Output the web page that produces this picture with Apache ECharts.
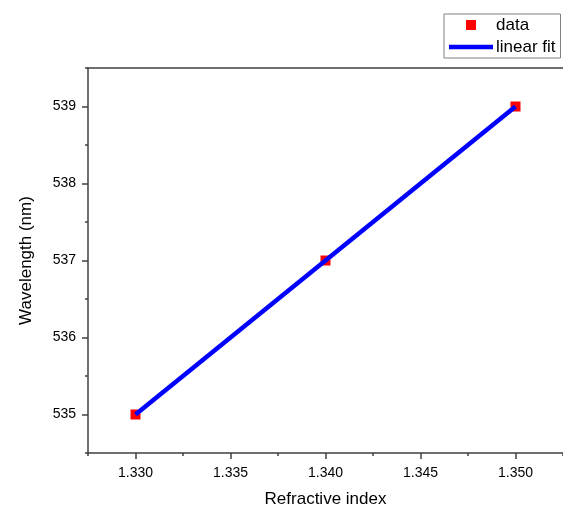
<!DOCTYPE html>
<html>
<head>
<meta charset="utf-8">
<script src="https://cdn.jsdelivr.net/npm/echarts@6/dist/echarts.min.js"></script>
<style>html,body{margin:0;padding:0;background:#fff}#c{width:563px;height:507px}</style>
</head>
<body>
<div id="c"></div>
<script>
// Data
var refIndex = [1.330, 1.340, 1.350];
var wavelength = [535, 537, 539];
var fitX = [1.330, 1.350];
var fitY = [535, 539];
// Ticks
var xMajorTicks = [1.330, 1.335, 1.340, 1.345, 1.350];
var xMinorTicks = [1.3275, 1.3325, 1.3375, 1.3425, 1.3475, 1.3525];
var yMajorTicks = [535, 536, 537, 538, 539];
var yMinorTicks = [534.5, 535.5, 536.5, 537.5, 538.5, 539.5];

var FONT = 'Liberation Sans, Arial, sans-serif';
var AX = '#404040';

var chart = echarts.init(document.getElementById('c'), null, {renderer: 'canvas'});
var xMin = 1.3275, xMax = 1.3525, yMin = 534.5, yMax = 539.5;

function pairs(xs, ys) { return xs.map(function (x, i) { return [x, ys[i]]; }); }

chart.setOption({
  animation: false,
  backgroundColor: '#fff',
  grid: {left: 88, top: 68, right: 0, bottom: 54, containLabel: false, outerBoundsMode: 'none'},
  legend: {
    orient: 'vertical',
    left: 444, top: 14,
    padding: [1, 5, 1, 5],
    itemWidth: 44, itemHeight: 10, itemGap: 2,
    borderColor: '#808080', borderWidth: 1,
    textStyle: {fontFamily: FONT, fontSize: 17, lineHeight: 20, color: '#000', padding: [0, 0, 0, -2]},
    data: [
      {name: 'data', icon: 'path://M0,0h10v10h-10z'},
      {name: 'linear fit', icon: 'path://M0,0h44v4.5h-44z'}
    ]
  },
  xAxis: [
    {
      type: 'value', min: xMin, max: xMax, position: 'bottom',
      name: 'Refractive index', nameLocation: 'middle', nameGap: 38,
      nameTextStyle: {fontFamily: FONT, fontSize: 17, color: '#000'},
      axisLine: {show: true, onZero: false, lineStyle: {color: AX, width: 1.5}},
      axisTick: {show: true, customValues: xMajorTicks, length: 6, lineStyle: {color: AX, width: 1.5}},
      axisLabel: {customValues: xMajorTicks, margin: 13, fontFamily: FONT, fontSize: 14, color: '#000',
        formatter: function (v) { return v.toFixed(3); }},
      splitLine: {show: false}
    },
    {
      type: 'value', min: xMin, max: xMax, position: 'bottom',
      axisLine: {show: false, onZero: false},
      axisTick: {show: true, customValues: xMinorTicks, length: 3, lineStyle: {color: AX, width: 1.5}},
      axisLabel: {show: false},
      splitLine: {show: false}
    },
    {
      type: 'value', min: xMin, max: xMax, position: 'top',
      axisLine: {show: true, onZero: false, lineStyle: {color: AX, width: 1.5}},
      axisTick: {show: false}, axisLabel: {show: false}, splitLine: {show: false}
    }
  ],
  yAxis: [
    {
      type: 'value', min: yMin, max: yMax, position: 'left',
      name: 'Wavelength (nm)', nameLocation: 'middle', nameGap: 53,
      nameTextStyle: {fontFamily: FONT, fontSize: 17, color: '#000'},
      axisLine: {show: true, onZero: false, lineStyle: {color: AX, width: 1.5}},
      axisTick: {show: true, customValues: yMajorTicks, length: 6, lineStyle: {color: AX, width: 1.5}},
      axisLabel: {customValues: yMajorTicks, margin: 12, fontFamily: FONT, fontSize: 14, color: '#000'},
      splitLine: {show: false}
    },
    {
      type: 'value', min: yMin, max: yMax, position: 'left',
      axisLine: {show: false, onZero: false},
      axisTick: {show: true, customValues: yMinorTicks, length: 3, lineStyle: {color: AX, width: 1.5}},
      axisLabel: {show: false},
      splitLine: {show: false}
    }
  ],
  series: [
    {
      name: 'data', type: 'scatter', xAxisIndex: 0, yAxisIndex: 0,
      symbol: 'rect', symbolSize: 10,
      itemStyle: {color: '#ff0000', opacity: 1},
      data: pairs(refIndex, wavelength), z: 2
    },
    {
      name: 'linear fit', type: 'line', xAxisIndex: 0, yAxisIndex: 0,
      showSymbol: false, symbol: 'none',
      lineStyle: {color: '#0000ff', width: 4.5},
      itemStyle: {color: '#0000ff'},
      data: pairs(fitX, fitY), z: 3
    }
  ]
});
</script>
</body>
</html>
